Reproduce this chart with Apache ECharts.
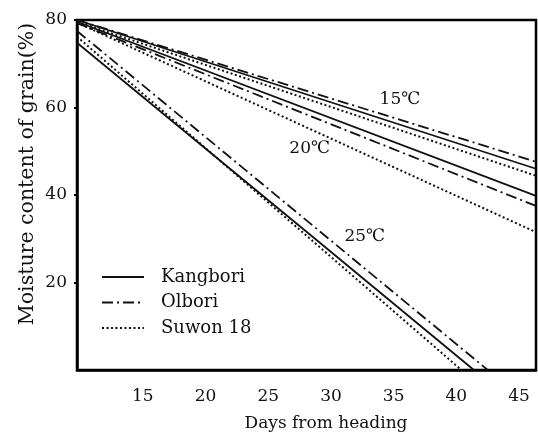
<!DOCTYPE html>
<html><head><meta charset="utf-8">
<script src="https://cdn.jsdelivr.net/npm/echarts@6/dist/echarts.min.js"></script>
<style>html,body{margin:0;padding:0;background:#fff}#c{width:538px;height:435px}</style>
</head><body><div id="c"></div>
<script>
// ---- data ----
const xTicks = [15, 20, 25, 30, 35, 40, 45];
const yTicks = [20, 40, 60, 80];
const varieties = ['Kangbori', 'Olbori', 'Suwon 18'];
const temperatures = ['15℃', '20℃', '25℃'];
// [day, moisture %]
const kangbori15 = [[9.75, 80.0], [46.35, 46.0]];
const olbori15   = [[9.75, 80.0], [46.35, 47.6]];
const suwon15    = [[9.75, 79.6], [46.35, 44.4]];
const kangbori20 = [[9.75, 79.6], [46.35, 39.8]];
const olbori20   = [[9.75, 79.3], [46.35, 37.5]];
const suwon20    = [[9.75, 79.4], [46.35, 31.5]];
const kangbori25 = [[9.75, 74.8], [28.9, 29.6], [41.4, 0]];
const olbori25   = [[9.75, 77.5], [42.5, 0]];
const suwon25    = [[9.75, 76.2], [40.4, 0]];
// temperature annotations: [day, moisture, text index]
const tempAnnot = [[35.5, 61.9, 0], [28.3, 50.5, 1], [32.7, 30.6, 2]];

const FONT = 'DejaVu Serif';
const lineTypes = {
  'Kangbori': { type: 'solid', width: 1.8 },
  'Olbori':   { type: [11, 4, 2, 4], width: 1.8 },
  'Suwon 18': { type: [2, 2.5], width: 2 }
};
const groups = [
  ['Kangbori', kangbori15], ['Olbori', olbori15], ['Suwon 18', suwon15],
  ['Kangbori', kangbori20], ['Olbori', olbori20], ['Suwon 18', suwon20],
  ['Kangbori', kangbori25], ['Olbori', olbori25], ['Suwon 18', suwon25]
];
const series = groups.map(([name, data]) => ({
  name, type: 'line', data, showSymbol: false, symbol: 'none', silent: true,
  lineStyle: Object.assign({ color: '#111' }, lineTypes[name]),
  itemStyle: { color: '#111' }, animation: false
}));
series.push({
  type: 'scatter', name: 'temps', silent: true, symbolSize: 0, animation: false,
  itemStyle: { opacity: 1, color: '#111' },
  data: tempAnnot,
  label: { show: true, position: 'inside', formatter: p => temperatures[p.data[2]],
           fontFamily: FONT, fontSize: 17, color: '#111', opacity: 1 }
});

const chart = echarts.init(document.getElementById('c'));
chart.setOption({
  backgroundColor: '#fff',
  animation: false,
  grid: { left: 77, right: 2, top: 20, bottom: 65, show: true, borderColor: '#000', borderWidth: 2.5 },
  xAxis: {
    type: 'value', min: 9.75, max: 46.35,
    axisLine: { show: true, lineStyle: { color: '#000', width: 2.5 } },
    axisTick: { show: false },
    splitLine: { show: false },
    axisLabel: { customValues: xTicks, fontFamily: FONT, fontSize: 17, color: '#111', margin: 18 }
  },
  yAxis: {
    type: 'value', min: 0, max: 80,
    axisLine: { show: true, lineStyle: { color: '#000', width: 2.5 } },
    axisTick: { show: true, customValues: yTicks, length: 3, lineStyle: { color: '#000', width: 2 } },
    splitLine: { show: false },
    axisLabel: { customValues: yTicks, fontFamily: FONT, fontSize: 17, color: '#111', margin: 10 }
  },
  legend: {
    data: varieties, orient: 'vertical', left: 101, top: 268, padding: 0,
    itemWidth: 42, itemHeight: 14, itemGap: 7.5,
    itemStyle: { color: 'rgba(0,0,0,0)', borderWidth: 0, opacity: 0 },
    textStyle: { fontFamily: FONT, fontSize: 18, color: '#111', lineHeight: 18, padding: [0, 0, 0, 12] },
    selectedMode: false
  },
  graphic: [
    { type: 'text', x: 28, y: 174, rotation: Math.PI / 2,
      style: { text: 'Moisture content of grain(%)', fontFamily: FONT, fontSize: 20.5, fill: '#111',
               textAlign: 'center', textVerticalAlign: 'middle' } },
    { type: 'text', x: 326, y: 424,
      style: { text: 'Days from heading', fontFamily: FONT, fontSize: 17, fill: '#111',
               textAlign: 'center', textVerticalAlign: 'middle' } }
  ],
  series
});
</script></body></html>
